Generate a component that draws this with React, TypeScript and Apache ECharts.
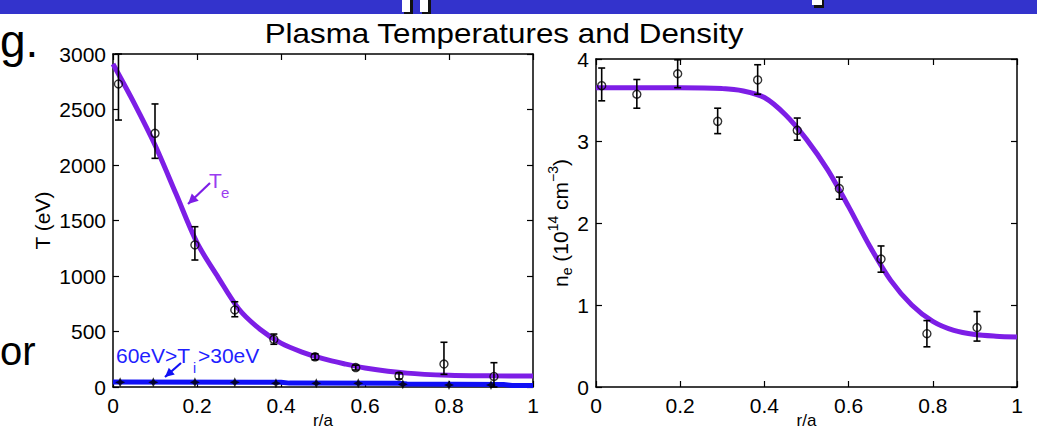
import React, { useEffect, useRef } from "react";
import * as echarts from "echarts";

// ---------- data ----------
const xTicks = [0, 0.2, 0.4, 0.6, 0.8, 1];

// Te fit curve (left panel)
const teFitR = [0, 0.05, 0.1, 0.15, 0.2, 0.25, 0.3, 0.35, 0.4, 0.45, 0.5, 0.55, 0.6, 0.7, 0.8, 0.9, 1.0];
const teFitV = [2910, 2560, 2180, 1740, 1300, 990, 700, 520, 395, 315, 255, 210, 172, 125, 106, 101, 99];

// Te measured points with error bars
const teR = [0.013, 0.1, 0.195, 0.29, 0.383, 0.481, 0.578, 0.681, 0.788, 0.907];
const teV = [2730, 2285, 1280, 694, 430, 272, 175, 100, 207, 95];
const teLo = [2405, 2060, 1144, 633, 385, 245, 153, 72, 114, 0];
const teHi = [3000, 2550, 1444, 768, 477, 299, 197, 128, 403, 219];

// Ti profile (blue) and markers
const tiFitR = [0, 0.4, 0.42, 0.68, 0.7, 0.93, 0.95, 1.0];
const tiFitV = [44, 43, 35, 33, 26, 22, 14, 13];
const tiR = [0.017, 0.096, 0.195, 0.29, 0.388, 0.484, 0.584, 0.69, 0.8, 0.9];
const tiV = [42, 42, 42, 42, 33, 33, 33, 24, 18, 18];

// ne fit curve (right panel)
const neFitR = [0, 0.1, 0.2, 0.3, 0.35, 0.4, 0.45, 0.5, 0.55, 0.6, 0.65, 0.7, 0.75, 0.8, 0.85, 0.9, 0.95, 1.0];
const neFitV = [3.65, 3.65, 3.65, 3.64, 3.61, 3.53, 3.32, 3.02, 2.65, 2.2, 1.72, 1.3, 1.0, 0.8, 0.69, 0.64, 0.62, 0.61];

// ne measured points with error bars
const neR = [0.0135, 0.097, 0.194, 0.289, 0.384, 0.478, 0.578, 0.677, 0.786, 0.905];
const neV = [3.675, 3.57, 3.82, 3.24, 3.745, 3.13, 2.42, 1.56, 0.65, 0.725];
const neLo = [3.49, 3.4, 3.65, 3.09, 3.57, 3.01, 2.29, 1.4, 0.49, 0.56];
const neHi = [3.89, 3.75, 3.99, 3.4, 3.93, 3.28, 2.56, 1.72, 0.81, 0.92];

const titleText = "Plasma Temperatures and Density";

// ---------- styles ----------
const FONT = "Liberation Sans";
const PURPLE = "#7d1ee6";
const BLUE = "#1010f5";

function arrowHead(tail: number[], tip: number[], len: number, half: number) {
  const dx = tip[0] - tail[0];
  const dy = tip[1] - tail[1];
  const l = Math.sqrt(dx * dx + dy * dy);
  const ux = dx / l, uy = dy / l;
  const bx = tip[0] - ux * len, by = tip[1] - uy * len;
  return [
    [tip[0], tip[1]],
    [bx - uy * half, by + ux * half],
    [bx + uy * half, by - ux * half],
  ];
}

function errRender(params: any, api: any) {
  const x = api.value(0);
  const lo = api.value(2);
  const hi = api.value(3);
  const t = api.coord([x, hi]);
  const b = api.coord([x, lo]);
  const w = 3.5;
  const style = { stroke: "#000", lineWidth: 1.6 };
  return {
    type: "group",
    children: [
      { type: "line", shape: { x1: t[0], y1: t[1], x2: b[0], y2: b[1] }, style },
      { type: "line", shape: { x1: t[0] - w, y1: t[1], x2: t[0] + w, y2: t[1] }, style },
      { type: "line", shape: { x1: b[0] - w, y1: b[1], x2: b[0] + w, y2: b[1] }, style },
    ],
  };
}

const plainFmt = (v: number) => String(v);

function xAxisDef(grid: number, top: boolean) {
  return {
    gridIndex: grid,
    type: "value",
    min: 0,
    max: 1,
    interval: 0.2,
    position: top ? "top" : "bottom",
    axisLine: { onZero: false, lineStyle: { color: "#000", width: 1.5 } },
    axisTick: { inside: true, length: 6, lineStyle: { color: "#000", width: 1.2 } },
    axisLabel: { show: !top, color: "#000", fontSize: 21, fontFamily: FONT, margin: 8, formatter: plainFmt },
    splitLine: { show: false },
    name: top ? "" : "r/a",
    nameLocation: "middle",
    nameGap: 25,
    nameMoveOverlap: false,
    nameTextStyle: { color: "#000", fontSize: 17, fontFamily: FONT },
  };
}

function yAxisDef(grid: number, right: boolean, max: number, interval: number, name: string, gap: number, rich?: any) {
  return {
    gridIndex: grid,
    type: "value",
    min: 0,
    max,
    interval,
    position: right ? "right" : "left",
    axisLine: { onZero: false, lineStyle: { color: "#000", width: 1.5 } },
    axisTick: { inside: true, length: 6, lineStyle: { color: "#000", width: 1.2 } },
    axisLabel: { show: !right, color: "#000", fontSize: 21, fontFamily: FONT, margin: 7, formatter: plainFmt },
    splitLine: { show: false },
    name: right ? "" : name,
    nameLocation: "middle",
    nameRotate: 90,
    nameGap: gap,
    nameMoveOverlap: false,
    nameTextStyle: { color: "#000", fontSize: 21, fontFamily: FONT, rich },
  };
}

export default function App() {
  const ref = useRef<HTMLDivElement>(null);
  useEffect(() => {
    if (!ref.current) return;
    const chart = echarts.init(ref.current, undefined, { renderer: "svg" });

    const teFit = teFitR.map((r, i) => [r, teFitV[i]]);
    const tiFit = tiFitR.map((r, i) => [r, tiFitV[i]]);
    const tePts = teR.map((r, i) => [r, teV[i], teLo[i], teHi[i]]);
    const tiPts = tiR.map((r, i) => [r, tiV[i]]);
    const neFit = neFitR.map((r, i) => [r, neFitV[i]]);
    const nePts = neR.map((r, i) => [r, neV[i], neLo[i], neHi[i]]);

    const teArrowTail = [210, 183];
    const teArrowTip = [188, 204];
    const tiArrowTail = [181, 363];
    const tiArrowTip = [165, 377];

    const neRich = {
      n: { fontSize: 21, fontFamily: FONT, color: "#000", lineHeight: 28 },
      sub: { fontSize: 14, fontFamily: FONT, color: "#000", verticalAlign: "bottom", lineHeight: 28 },
      sup: { fontSize: 14, fontFamily: FONT, color: "#000", verticalAlign: "top", lineHeight: 28 },
    };

    chart.setOption({
      animation: false,
      backgroundColor: "#fff",
      grid: [
        { left: 113, top: 54, width: 420, height: 333, outerBoundsMode: "none", containLabel: false },
        { left: 596, top: 59, width: 421, height: 328, outerBoundsMode: "none", containLabel: false },
      ],
      xAxis: [xAxisDef(0, false), xAxisDef(0, true), xAxisDef(1, false), xAxisDef(1, true)],
      yAxis: [
        yAxisDef(0, false, 3000, 500, "T (eV)", 60),
        yAxisDef(0, true, 3000, 500, "", 0),
        yAxisDef(1, false, 4, 1, "{n|n}{sub|e}{n| (10}{sup|14}{n| cm}{sup|−3}{n|)}", 22, neRich),
        yAxisDef(1, true, 4, 1, "", 0),
      ],
      series: [
        {
          type: "line",
          xAxisIndex: 0,
          yAxisIndex: 0,
          data: teFit,
          smooth: 0.3,
          showSymbol: false,
          lineStyle: { color: PURPLE, width: 5 },
          z: 2,
        },
        {
          type: "line",
          xAxisIndex: 0,
          yAxisIndex: 0,
          data: tiFit,
          showSymbol: false,
          lineStyle: { color: BLUE, width: 5 },
          z: 2,
        },
        {
          type: "custom",
          xAxisIndex: 0,
          yAxisIndex: 0,
          data: tePts,
          encode: { x: 0, y: [1, 2, 3] },
          renderItem: errRender,
          z: 3,
        },
        {
          type: "scatter",
          xAxisIndex: 0,
          yAxisIndex: 0,
          data: tePts.map((p) => [p[0], p[1]]),
          symbol: "circle",
          symbolSize: 8,
          itemStyle: { color: "rgba(0,0,0,0)", borderColor: "#000", borderWidth: 1.4 },
          z: 4,
        },
        {
          type: "scatter",
          xAxisIndex: 0,
          yAxisIndex: 0,
          data: tiPts,
          symbol: "path://M0,-5L1.6,-1.6L5,0L1.6,1.6L0,5L-1.6,1.6L-5,0L-1.6,-1.6Z",
          symbolSize: 10,
          itemStyle: { color: "#000" },
          z: 4,
        },
        {
          type: "line",
          xAxisIndex: 2,
          yAxisIndex: 2,
          data: neFit,
          smooth: 0.3,
          showSymbol: false,
          lineStyle: { color: PURPLE, width: 5 },
          z: 2,
        },
        {
          type: "custom",
          xAxisIndex: 2,
          yAxisIndex: 2,
          data: nePts,
          encode: { x: 0, y: [1, 2, 3] },
          renderItem: errRender,
          z: 3,
        },
        {
          type: "scatter",
          xAxisIndex: 2,
          yAxisIndex: 2,
          data: nePts.map((p) => [p[0], p[1]]),
          symbol: "circle",
          symbolSize: 8,
          itemStyle: { color: "rgba(0,0,0,0)", borderColor: "#000", borderWidth: 1.4 },
          z: 4,
        },
      ],
      graphic: [
        // slide header bar
        { type: "rect", shape: { x: 0, y: 0, width: 1037, height: 14 }, style: { fill: "#3333cc" }, z: 10 },
        { type: "rect", shape: { x: 404, y: 0, width: 9, height: 14 }, style: { fill: "#111" }, z: 11 },
        { type: "rect", shape: { x: 422, y: 0, width: 9, height: 14 }, style: { fill: "#111" }, z: 11 },
        { type: "rect", shape: { x: 402, y: 0, width: 8, height: 12 }, style: { fill: "#fff" }, z: 12 },
        { type: "rect", shape: { x: 420, y: 0, width: 8, height: 12 }, style: { fill: "#fff" }, z: 12 },
        { type: "rect", shape: { x: 814, y: 0, width: 10, height: 8 }, style: { fill: "#111" }, z: 11 },
        { type: "rect", shape: { x: 812, y: 0, width: 10, height: 5 }, style: { fill: "#fff" }, z: 12 },
        // cut-off slide text on the left
        { type: "text", x: 0, y: 41, style: { text: "g.", fontSize: 46, fontFamily: FONT, fill: "#000", verticalAlign: "middle", align: "left" }, z: 10 },
        { type: "text", x: 0, y: 351, style: { text: "or", fontSize: 40, fontFamily: FONT, fill: "#000", verticalAlign: "middle", align: "left" }, z: 10 },
        // title
        { type: "text", x: 504, y: 33, scaleX: 1.12, style: { text: titleText, fontSize: 28, fontFamily: FONT, fill: "#000", align: "center", verticalAlign: "middle" }, z: 10 },
        // Te label and arrow
        { type: "text", x: 209, y: 180, style: { text: "T", fontSize: 21, fontFamily: FONT, fill: "#9a3cf0", align: "left", verticalAlign: "middle" }, z: 10 },
        { type: "text", x: 221, y: 192, style: { text: "e", fontSize: 15, fontFamily: FONT, fill: "#9a3cf0", align: "left", verticalAlign: "middle" }, z: 10 },
        { type: "line", shape: { x1: teArrowTail[0], y1: teArrowTail[1], x2: teArrowTip[0], y2: teArrowTip[1] }, style: { stroke: PURPLE, lineWidth: 2.2 }, z: 10 },
        { type: "polygon", shape: { points: arrowHead(teArrowTail, teArrowTip, 10, 5) }, style: { fill: PURPLE }, z: 10 },
        // Ti label and arrow
        { type: "text", x: 116, y: 355, style: { text: "60eV>T", fontSize: 21, fontFamily: FONT, fill: "#1f1fff", align: "left", verticalAlign: "middle" }, z: 10 },
        { type: "text", x: 193, y: 368, style: { text: "i", fontSize: 14, fontFamily: FONT, fill: "#1f1fff", align: "left", verticalAlign: "middle" }, z: 10 },
        { type: "text", x: 198, y: 355, style: { text: ">30eV", fontSize: 21, fontFamily: FONT, fill: "#1f1fff", align: "left", verticalAlign: "middle" }, z: 10 },
        { type: "line", shape: { x1: tiArrowTail[0], y1: tiArrowTail[1], x2: tiArrowTip[0], y2: tiArrowTip[1] }, style: { stroke: BLUE, lineWidth: 2.2 }, z: 10 },
        { type: "polygon", shape: { points: arrowHead(tiArrowTail, tiArrowTip, 9, 4.5) }, style: { fill: BLUE }, z: 10 },
      ],
    });
    return () => chart.dispose();
  }, []);
  return (
    <div
      ref={ref}
      style={{ position: "fixed", left: 0, top: 0, width: 1037, height: 432, background: "#fff" }}
    />
  );
}
